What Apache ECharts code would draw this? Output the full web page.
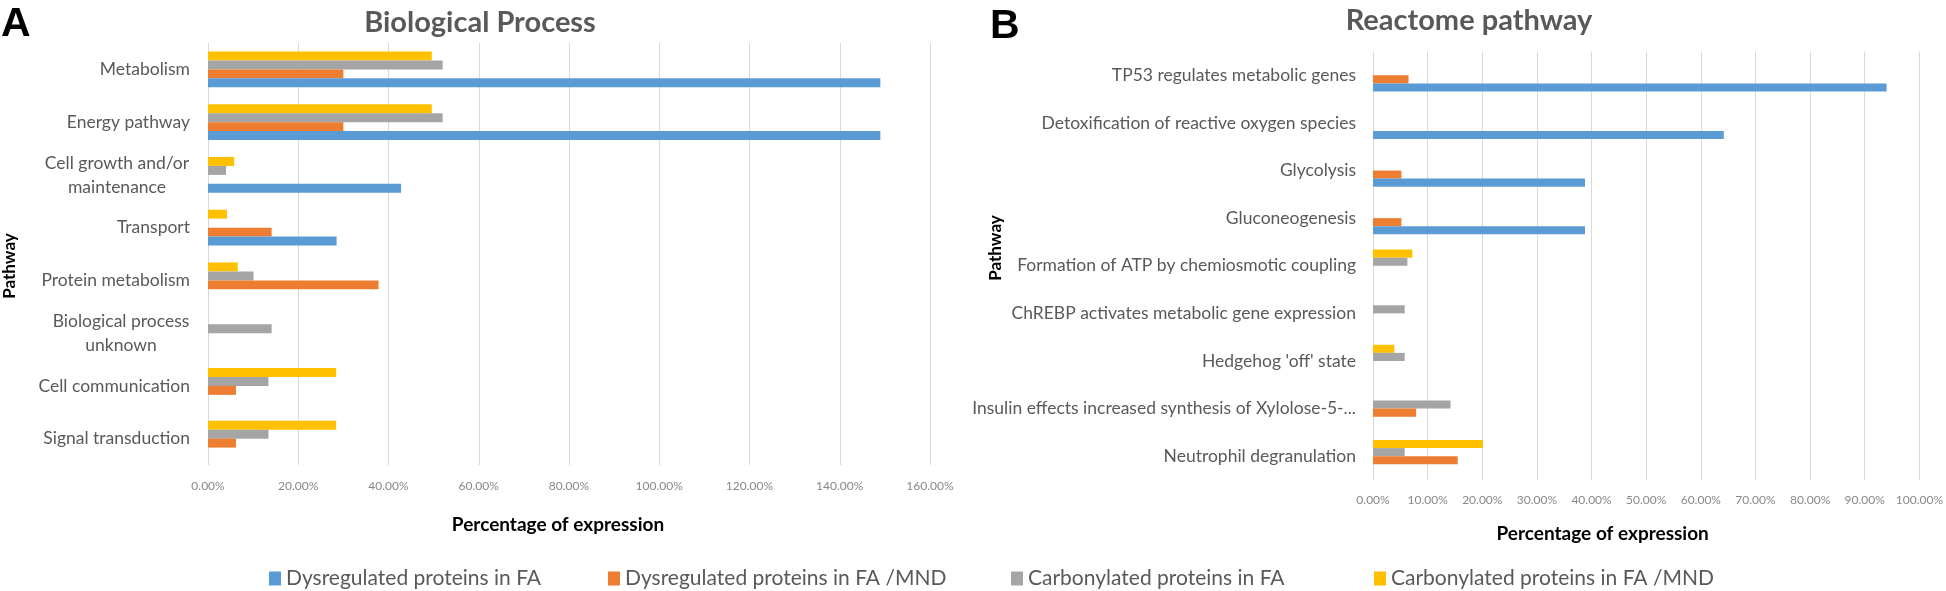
<!DOCTYPE html>
<html>
<head>
<meta charset="utf-8">
<script src="https://cdn.jsdelivr.net/npm/echarts@6/dist/echarts.min.js"></script>
<style>
html,body{margin:0;padding:0;background:#fff;}
#chart{width:1946px;height:591px;}
</style>
</head>
<body>
<div id="chart"></div>
<script>
// ---------- data ----------
const seriesNames = [
  'Dysregulated proteins in FA',
  'Dysregulated proteins in FA /MND',
  'Carbonylated proteins in FA',
  'Carbonylated proteins in FA /MND'
];
const seriesColors = ['#5b9bd5', '#ed7d31', '#a5a5a5', '#ffc000'];

const bpCategories = [
  'Metabolism',
  'Energy pathway',
  'Cell growth and/or\nmaintenance',
  'Transport',
  'Protein metabolism',
  'Biological process\nunknown',
  'Cell communication',
  'Signal transduction'
];
const bpDysFA     = [149, 149, 42.8, 28.5, null, null, null, null];
const bpDysMND    = [30, 30, null, 14.1, 37.8, null, 6.2, 6.2];
const bpCarbFA    = [52, 52, 4.0, null, 10.1, 14.1, 13.4, 13.4];
const bpCarbMND   = [49.6, 49.6, 5.8, 4.2, 6.6, null, 28.4, 28.4];

const rpCategories = [
  'TP53 regulates metabolic genes',
  'Detoxification of reactive oxygen species',
  'Glycolysis',
  'Gluconeogenesis',
  'Formation of ATP by chemiosmotic coupling',
  'ChREBP activates metabolic gene expression',
  "Hedgehog 'off' state",
  'Insulin effects increased synthesis of Xylolose-5-...',
  'Neutrophil degranulation'
];
const rpDysFA     = [94.0, 64.2, 38.8, 38.8, null, null, null, null, null];
const rpDysMND    = [6.5, null, 5.2, 5.2, null, null, null, 7.9, 15.5];
const rpCarbFA    = [null, null, null, null, 6.3, 5.8, 5.8, 14.2, 5.8];
const rpCarbMND   = [null, null, null, null, 7.2, null, 3.9, null, 20.1];

const bpTicks = {min: 0, max: 160, interval: 20};
const rpTicks = {min: 0, max: 100, interval: 10};

// ---------- helpers ----------
const FONT = 'Lato';
const labelSize = 17.5;
const ctx = document.createElement('canvas').getContext('2d');
function textW(t, font) { ctx.font = font; return ctx.measureText(t).width; }

// centered multi-line labels (lines centered inside a right-aligned block)
const bpRich = {};
const bpLabelMap = {};
bpCategories.forEach((c, i) => {
  const lines = c.split('\n');
  if (lines.length > 1) {
    const w = Math.max(...lines.map(l => textW(l, labelSize + 'px ' + FONT)));
    const key = 'm' + i;
    bpRich[key] = {width: Math.ceil(w) + 1, align: 'center', fontSize: labelSize, fontFamily: FONT, color: '#595959', lineHeight: 24};
    bpLabelMap[c] = lines.map(l => '{' + key + '|' + l + '}').join('\n');
  }
});

function pct(v) { return v.toFixed(2) + '%'; }

// bars are stacked top-to-bottom in series order inside each category band,
// so the series are added in reverse legend order (yellow on top, blue at bottom)
function makeSeries(datas, axisIdx) {
  const out = [];
  for (let k = datas.length - 1; k >= 0; k--) {
    out.push({
      type: 'bar',
      name: seriesNames[k],
      data: datas[k],
      xAxisIndex: axisIdx,
      yAxisIndex: axisIdx,
      itemStyle: {color: seriesColors[k]},
      barGap: '0%',
      barCategoryGap: '32%',
      emphasis: {disabled: true}
    });
  }
  return out;
}

const chart = echarts.init(document.getElementById('chart'), null, {renderer: 'canvas'});

const axisNameStyle = {fontFamily: FONT, fontWeight: 'bold', fontSize: 19, color: '#000'};
const tickStyle = {fontFamily: FONT, fontSize: 12, color: '#888'};

const option = {
  backgroundColor: '#fff',
  animation: false,
  title: [
    {text: 'Biological Process', left: 475, top: 3, textAlign: 'center',
     textStyle: {fontFamily: FONT, fontWeight: 'bold', fontSize: 29, color: '#595959'}},
    {text: 'Reactome pathway', left: 1464, top: 1, textAlign: 'center',
     textStyle: {fontFamily: FONT, fontWeight: 'bold', fontSize: 29, color: '#595959'}}
  ],
  legend: seriesNames.map((n, k) => ({
    data: [n],
    left: [264, 603, 1006, 1369][k],
    top: 563,
    itemWidth: 12,
    itemHeight: 14,
    icon: 'rect',
    selectedMode: false,
    textStyle: {fontFamily: FONT, fontSize: 21, color: '#595959'}
  })),
  grid: [
    {left: 208, right: 1946 - 930, top: 43, bottom: 591 - 465},
    {left: 1373, right: 1946 - 1926, top: 51.5, bottom: 591 - 480}
  ],
  xAxis: [
    {type: 'value', gridIndex: 0, min: bpTicks.min, max: bpTicks.max, interval: bpTicks.interval,
     axisLine: {show: false}, axisTick: {show: false},
     splitLine: {lineStyle: {color: '#d9d9d9', width: 1}},
     axisLabel: {formatter: pct, margin: 15, ...tickStyle},
     name: 'Percentage of expression', nameLocation: 'middle', nameGap: 50,
     nameTextStyle: {...axisNameStyle, padding: [0, 22, 0, 0]}},
    {type: 'value', gridIndex: 1, min: rpTicks.min, max: rpTicks.max, interval: rpTicks.interval,
     axisLine: {show: false}, axisTick: {show: false},
     splitLine: {lineStyle: {color: '#d9d9d9', width: 1}},
     axisLabel: {formatter: pct, margin: 14, ...tickStyle},
     name: 'Percentage of expression', nameLocation: 'middle', nameGap: 44,
     nameTextStyle: {...axisNameStyle, padding: [0, 87, 0, 0]}}
  ],
  yAxis: [
    {type: 'category', gridIndex: 0, data: bpCategories, inverse: true,
     axisLine: {show: false}, axisTick: {show: false},
     axisLabel: {margin: 18, fontFamily: FONT, fontSize: labelSize, color: '#595959', lineHeight: 24,
       formatter: v => bpLabelMap[v] || v, rich: bpRich}},
    {type: 'category', gridIndex: 1, data: rpCategories, inverse: true,
     axisLine: {show: false}, axisTick: {show: false},
     axisLabel: {margin: 17, fontFamily: FONT, fontSize: labelSize, color: '#595959'}}
  ],
  graphic: [
    {type: 'text', left: 1, top: 4, style: {text: 'A', font: 'bold 41px "Liberation Sans", Arial', fill: '#000'}},
    {type: 'text', left: 990, top: 6, style: {text: 'B', font: 'bold 41px "Liberation Sans", Arial', fill: '#000'}},
    {type: 'text', x: 10, y: 266, rotation: Math.PI / 2,
     style: {text: 'Pathway', font: 'bold 17px ' + FONT, fill: '#000', align: 'center', verticalAlign: 'middle'}},
    {type: 'text', x: 996, y: 248, rotation: Math.PI / 2,
     style: {text: 'Pathway', font: 'bold 17px ' + FONT, fill: '#000', align: 'center', verticalAlign: 'middle'}}
  ],
  series: [
    ...makeSeries([bpDysFA, bpDysMND, bpCarbFA, bpCarbMND], 0),
    ...makeSeries([rpDysFA, rpDysMND, rpCarbFA, rpCarbMND], 1)
  ]
};
chart.setOption(option);
</script>
</body>
</html>
